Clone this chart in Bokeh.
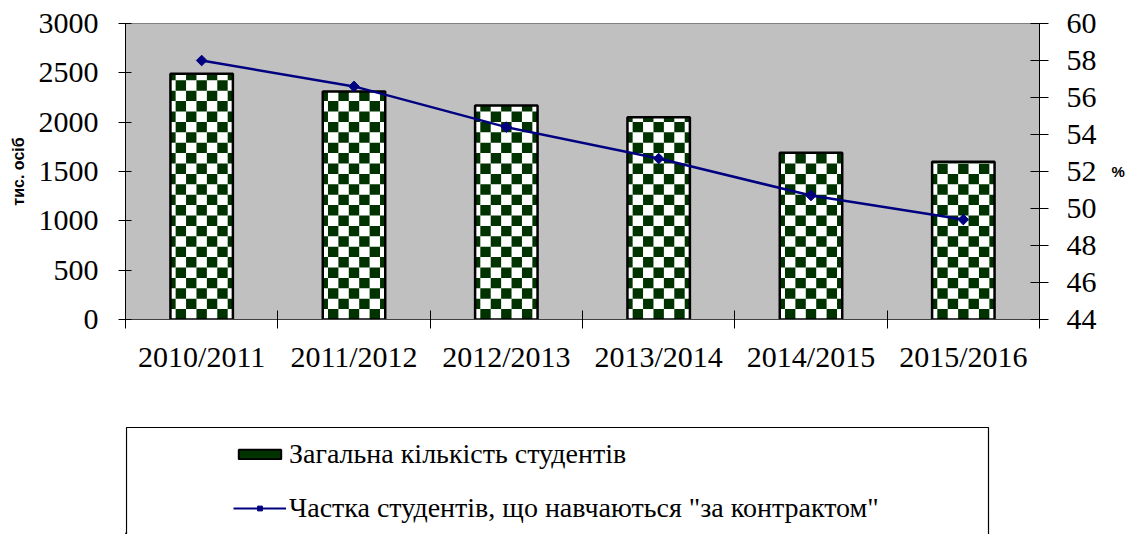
import math
from bokeh.plotting import figure
from bokeh.layouts import column
from bokeh.models import (Range1d, LinearAxis, FixedTicker, SingleIntervalTicker,
                          Legend, LegendItem, ColumnDataSource)
from bokeh.embed import file_html
from bokeh.resources import INLINE

years = ["2010/2011", "2011/2012", "2012/2013", "2013/2014", "2014/2015", "2015/2016"]
students = [2490, 2310, 2170, 2050, 1690, 1600]
contract_share = [58.0, 56.6, 54.4, 52.7, 50.7, 49.4]

bar_label = "Загальна кількість студентів"
line_label = 'Частка студентів, що навчаються "за контрактом"'

SERIF = "Liberation Serif"
SANS = "Liberation Sans"
DARK = "#003300"
NAVY = "#000080"

BAR_W = 0.41
Y_MAX = 3000
FRAME_H_PX = 296
CELL_PX = 10.4
FRAME_L, FRAME_R = 125, 1039

xs = list(range(len(years)))
src = ColumnDataSource(dict(x=xs, students=students, share=contract_share))

p = figure(width=1129, height=400, output_backend="svg", toolbar_location=None,
           x_range=Range1d(-0.5, len(years) - 0.5), y_range=Range1d(0, Y_MAX),
           min_border_left=FRAME_L, min_border_right=1129 - FRAME_R,
           min_border_top=23, min_border_bottom=81)
p.background_fill_color = "#C0C0C0"
p.border_fill_color = "white"
p.outline_line_color = "#808080"
p.xgrid.visible = False
p.ygrid.visible = False
p.extra_y_ranges = {"pct": Range1d(44, 60)}

# white bar bodies
p.vbar(x="x", top="students", width=BAR_W, source=src, fill_color="white", line_color=None)

# checkerboard cells derived from the bar values
cw = BAR_W / 6.0
ch = Y_MAX / FRAME_H_PX * CELL_PX
cl, cr, cb, ct = [], [], [], []
for xc, h in zip(xs, students):
    L, R = xc - BAR_W / 2, xc + BAR_W / 2
    col_edges = [L] + [L + cw / 2 + k * cw for k in range(6)] + [R]
    nrows = int(math.ceil(h / ch))
    for r in range(nrows):
        b = r * ch
        t = min((r + 1) * ch, h)
        for c in range(len(col_edges) - 1):
            if (c + r) % 2 == 1:
                cl.append(col_edges[c]); cr.append(col_edges[c + 1]); cb.append(b); ct.append(t)
p.quad(left=cl, right=cr, bottom=cb, top=ct, fill_color=DARK, line_color=None)

# bar outlines
p.vbar(x="x", top="students", width=BAR_W, source=src, fill_color=None,
       line_color="black", line_width=2.5)

p.line(x="x", y="share", source=src, y_range_name="pct", line_color=NAVY, line_width=2.5)
p.scatter(x="x", y="share", source=src, y_range_name="pct", marker="square",
          angle=math.pi / 4, size=7.5, fill_color=NAVY, line_color=NAVY)

# x axis: labels at centres, ticks between categories
xa = p.xaxis[0]
xa.ticker = FixedTicker(ticks=xs, minor_ticks=[i - 0.5 for i in range(len(years) + 1)])
xa.major_label_overrides = {i: y for i, y in enumerate(years)}
xa.major_tick_in = 0
xa.major_tick_out = 0
xa.minor_tick_in = 9
xa.minor_tick_out = 9
xa.minor_tick_line_color = "black"
xa.axis_line_color = "#404040"
xa.major_label_text_font = SERIF
xa.major_label_text_font_size = "30px"
xa.major_label_text_color = "black"
xa.major_label_standoff = 11

ya = p.yaxis[0]
ya.ticker = SingleIntervalTicker(interval=500, num_minor_ticks=0)
ya.major_tick_in = 6
ya.major_tick_out = 7
ya.minor_tick_line_color = None
ya.axis_line_color = "black"
ya.major_tick_line_color = "black"
ya.major_label_text_font = SERIF
ya.major_label_text_font_size = "30px"
ya.major_label_text_color = "black"
ya.major_label_standoff = 20
ya.axis_label = "тис. осіб"
ya.axis_label_text_font = SANS
ya.axis_label_text_font_style = "bold"
ya.axis_label_text_font_size = "16px"
ya.axis_label_text_color = "black"
ya.axis_label_standoff = 9

ra = LinearAxis(y_range_name="pct", ticker=SingleIntervalTicker(interval=2, num_minor_ticks=0))
ra.major_tick_in = 9
ra.major_tick_out = 9
ra.minor_tick_line_color = None
ra.axis_line_color = "black"
ra.major_tick_line_color = "black"
ra.major_label_text_font = SERIF
ra.major_label_text_font_size = "30px"
ra.major_label_text_color = "black"
ra.major_label_standoff = 18
ra.axis_label = "%"
ra.axis_label_orientation = "horizontal"
ra.axis_label_text_font = SANS
ra.axis_label_text_font_style = "bold"
ra.axis_label_text_font_size = "15px"
ra.axis_label_text_color = "black"
ra.axis_label_standoff = 12
p.add_layout(ra, "right")

# legend panel: its own small figure, ranges in pixel units (frame aligned with the chart above)
LH = 134
q = figure(width=1129, height=LH, output_backend="svg", toolbar_location=None,
           x_range=Range1d(FRAME_L, FRAME_R), y_range=Range1d(0, LH),
           x_axis_type=None, y_axis_type=None,
           min_border_left=FRAME_L, min_border_right=1129 - FRAME_R,
           min_border_top=0, min_border_bottom=0)
q.outline_line_color = None
q.background_fill_color = "white"
q.border_fill_color = "white"
q.xgrid.visible = False
q.ygrid.visible = False

q.quad(left=[126], right=[988], top=[LH - 27], bottom=[-20], fill_color=None,
       line_color="black", line_width=1.2)

# legend proxies (kept outside the visible range)
proxy = ColumnDataSource(dict(x=[-5000, -4999], top=[1, 1], y=[0, 0]))
lb = q.vbar(x="x", top="top", width=1, source=proxy, fill_color=DARK, line_color="black", line_width=2)
ll = q.line(x="x", y="y", source=proxy, line_color=NAVY, line_width=2)
lp = q.scatter(x="x", y="y", source=proxy, marker="square", angle=math.pi / 4, size=7,
               fill_color=NAVY, line_color=NAVY)

legend = Legend(items=[LegendItem(label=bar_label, renderers=[lb]),
                       LegendItem(label=line_label, renderers=[ll, lp])],
                location=(233 - FRAME_L, 10), orientation="vertical",
                border_line_alpha=0, background_fill_alpha=0,
                padding=0, margin=0, spacing=22,
                glyph_width=53, glyph_height=12, label_height=30, label_standoff=3,
                label_text_font=SERIF, label_text_font_size="28px", label_text_color="black")
q.add_layout(legend, "center")

layout = column(p, q, spacing=0)
open("out.html", "w").write(file_html(layout, INLINE))
